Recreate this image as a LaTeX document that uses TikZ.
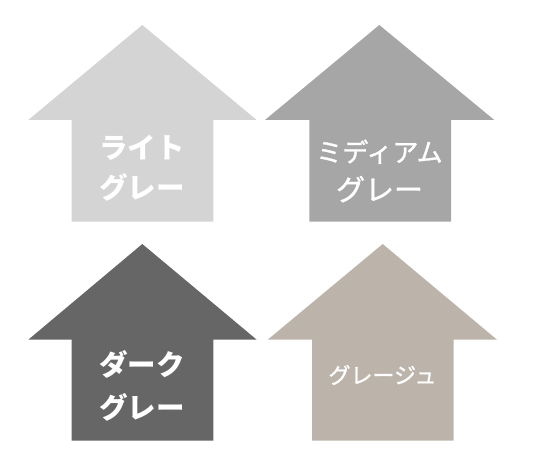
\documentclass[tikz,border=0pt]{standalone}
\usepackage{fontspec}
\newfontfamily\jp{Noto Sans CJK JP}
\newfontfamily\jpm[FakeBold=1.2]{Noto Sans CJK JP}
\definecolor{lightg}{HTML}{D4D4D4}
\definecolor{medg}{HTML}{A6A6A6}
\definecolor{darkg}{HTML}{666666}
\definecolor{greige}{HTML}{BCB4AB}
\tikzset{
  lbl/.style={text=white, align=center, inner sep=0pt, font=\jp}
}
\begin{document}
\begin{tikzpicture}[x=1pt,y=-1pt]
\useasboundingbox (0,0) rectangle (533,476);
% top-left
\fill[lightg] (142.3,25) -- (256.7,120) -- (213.3,120) -- (213.3,221.7) -- (71.7,221.7) -- (71.7,120) -- (28.3,120) -- cycle;
% top-right
\fill[medg] (379.3,25) -- (494.3,120) -- (451,120) -- (451,221.7) -- (309.3,221.7) -- (309.3,120) -- (265,120) -- cycle;
% bottom-left
\fill[darkg] (142.3,244) -- (256.7,339.7) -- (213.3,339.7) -- (213.3,440.7) -- (71.7,440.7) -- (71.7,339.7) -- (28.3,339.7) -- cycle;
% bottom-right
\fill[greige] (382.7,244) -- (497,339.7) -- (453.7,339.7) -- (453.7,440.7) -- (312,440.7) -- (312,339.7) -- (267.7,339.7) -- cycle;
\node[lbl, font=\jp\bfseries\fontsize{28.5}{40}\selectfont] (t1) at (142,168) {ライト\\グレー};
\node[lbl, font=\jpm\fontsize{29}{38.5}\selectfont] (t2) at (379.5,171) {{\fontsize{26}{38.5}\selectfont ミディアム}\\グレー};
\node[lbl, font=\jp\bfseries\fontsize{28.5}{43}\selectfont] (t3) at (142,386) {ダーク\\グレー};
\node[lbl, font=\jpm\fontsize{22}{24}\selectfont] (t4) at (382.5,375) {グレージュ};
\end{tikzpicture}
\end{document}
